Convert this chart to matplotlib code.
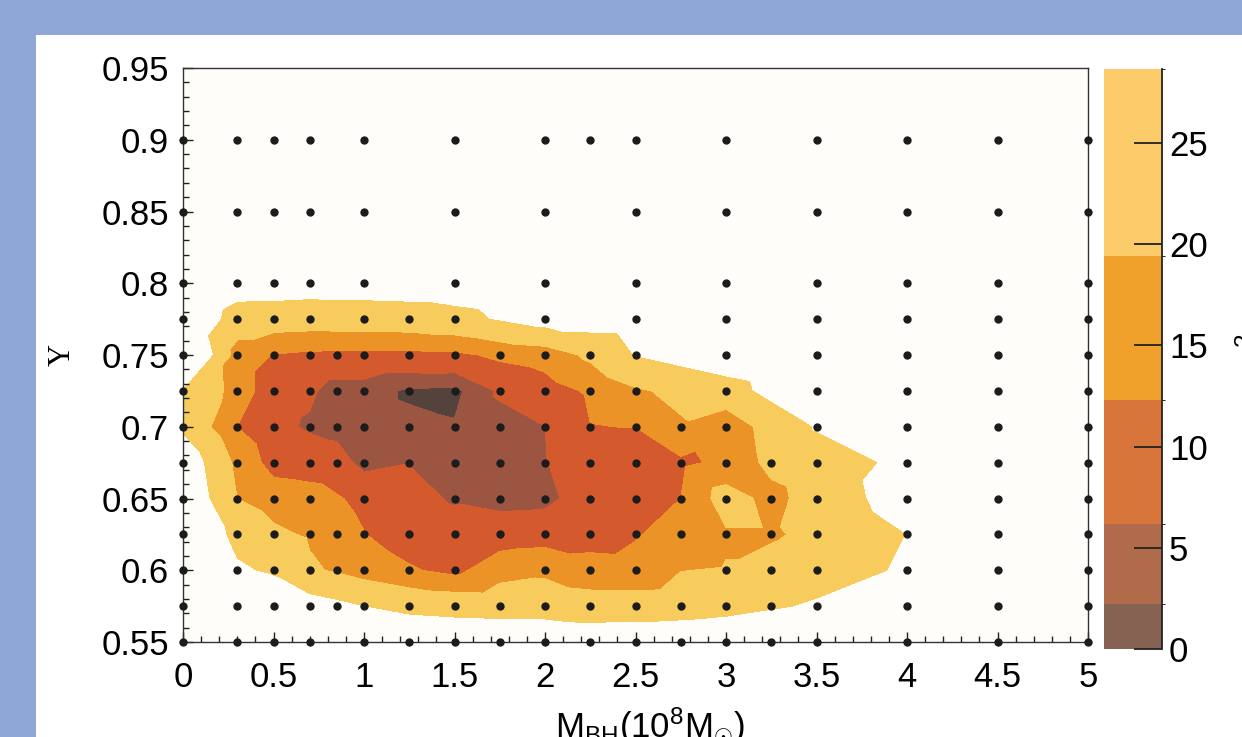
import numpy as np
import matplotlib
matplotlib.use("Agg")
import matplotlib.pyplot as plt
import matplotlib.tri as mtri
from matplotlib.colors import ListedColormap, BoundaryNorm
from matplotlib.cm import ScalarMappable

plt.rcParams['font.family'] = ['Liberation Sans', 'DejaVu Sans']
plt.rcParams['mathtext.fontset'] = 'custom'
plt.rcParams['mathtext.rm'] = 'Liberation Sans'
plt.rcParams['mathtext.it'] = 'Liberation Sans:italic'

# contour levels of chi^2 and the colours of the bands
levels = [0, 2.2, 6.15, 12.3, 19.4, 28.65]
fill_colors = ['#54433d', '#9c5540', '#d45a2e', '#eb9326', '#f7cb5c']
bar_colors = ['#856251', '#b06b4b', '#d8753b', '#efa12c', '#fccb6a']
bar_ticks = [0, 5, 10, 15, 20, 25]

# sampled grid: one row per Y value, M_BH positions and chi^2 at each point
rows_y = [0.90, 0.85, 0.80, 0.775, 0.75, 0.725, 0.70, 0.675, 0.65, 0.625, 0.60, 0.575, 0.55]
full_x = [0, 0.3, 0.5, 0.7, 0.85, 1, 1.25, 1.5, 1.75, 2, 2.25, 2.5, 2.75, 3, 3.25, 3.5, 4, 4.5, 5]
rows_x = [
    [0, 0.3, 0.5, 0.7, 1, 1.5, 2, 2.25, 2.5, 3, 3.5, 4, 4.5, 5],
    [0, 0.3, 0.5, 0.7, 1, 1.5, 2, 2.5, 3, 3.5, 4, 4.5, 5],
    [0, 0.3, 0.5, 0.7, 1, 1.5, 2, 2.5, 3, 3.5, 4, 4.5, 5],
    [0, 0.3, 0.5, 0.7, 1, 1.25, 1.5, 2, 2.5, 3, 3.5, 4, 4.5, 5],
    [0, 0.3, 0.5, 0.7, 0.85, 1, 1.25, 1.5, 1.75, 2, 2.25, 2.5, 3, 3.5, 4, 4.5, 5],
    [0, 0.3, 0.5, 0.7, 0.85, 1, 1.25, 1.5, 1.75, 2, 2.25, 2.5, 3, 3.5, 4, 4.5, 5],
    [0, 0.3, 0.5, 0.7, 0.85, 1, 1.25, 1.5, 1.75, 2, 2.25, 2.5, 2.75, 3, 3.5, 4, 4.5, 5],
    full_x,
    [0, 0.3, 0.5, 0.7, 1, 1.5, 1.75, 2, 2.25, 2.5, 2.75, 3, 3.25, 3.5, 4, 4.5, 5],
    full_x,
    [0, 0.3, 0.5, 0.7, 0.85, 1, 1.25, 1.5, 2, 2.25, 2.5, 3, 3.25, 3.5, 4, 4.5, 5],
    full_x,
    [0, 0.3, 0.5, 0.7, 1, 1.25, 1.5, 1.75, 2, 2.25, 2.5, 2.75, 3, 3.25, 3.5, 4, 4.5, 5],
]
rows_chi2 = [
    [70, 62, 60, 58, 56, 56, 58, 60, 62, 66, 70, 75, 80, 85],
    [55, 46, 44, 43, 42, 42, 44, 46, 50, 55, 62, 68, 75],
    [42, 34, 33.5, 33, 33, 33.5, 36, 40, 45, 50, 56, 62, 68],
    [40, 24, 24, 23.5, 24, 24.5, 26, 33, 34, 40, 46, 52, 58, 65],
    [45, 16, 12, 11, 10.8, 10.5, 10.5, 11, 13.5, 15, 21, 29.2, 36, 42, 48, 54, 60],
    [28.4, 16.3, 8.1, 7.0, 4.0, 4.0, 1.6, 1.2, 6.8, 9.4, 13.2, 18.4, 24, 40, 45, 52, 58],
    [27, 12.2, 7.5, 5.5, 4.5, 4.0, 3.2, 2.5, 4.5, 6.1, 12.2, 12.4, 18.5, 15, 29.5, 38, 46, 55],
    [36, 17.5, 9.7, 9, 8.5, 4.5, 6.0, 4.2, 4.0, 5.9, 9, 9.5, 11, 13.7, 21.5, 24, 31, 40, 50],
    [38, 19.3, 16, 15, 10.7, 5.7, 4.8, 5.0, 8.5, 10, 12.3, 23, 17, 23, 33.3, 42, 52],
    [40, 26, 21, 18.5, 15, 12.5, 9, 8, 8.5, 9, 9.5, 11.8, 15, 18.5, 18.5, 21.1, 28.8, 38, 48],
    [44, 30, 27.5, 20.5, 18.5, 16, 13, 10.5, 18, 15, 14.5, 19.8, 22, 24, 30, 38, 48],
    [50, 40, 36, 33, 31, 28.8, 26, 25, 24.5, 24, 23, 23, 23.5, 25, 27.5, 30, 36, 44, 52],
    [60, 52, 48, 44, 40, 38, 37, 37, 37, 35, 36, 37, 38, 40, 42, 48, 54, 60],
]

xs = np.concatenate([np.array(r, float) for r in rows_x])
ys = np.concatenate([np.full(len(r), y) for r, y in zip(rows_x, rows_y)])
zs = np.concatenate([np.array(r, float) for r in rows_chi2])

W, H = 1242, 737
fig = plt.figure(figsize=(W / 100, H / 100), dpi=100, facecolor='#8fa7d6')
fig.add_artist(plt.Rectangle((36 / W, 0), 1, 1 - 35 / H, transform=fig.transFigure,
                             facecolor='white', edgecolor='none', zorder=-1))

ax = fig.add_axes([183 / W, 1 - 642 / H, 905 / W, 574 / H])
ax.set_facecolor('#fefdf9')

# triangulate in (roughly) screen space so the skinny grid cells behave
vis = mtri.Triangulation(xs * 181.0, ys * 1435.0)
tri = mtri.Triangulation(xs, ys, vis.triangles)
ax.tricontourf(tri, zs, levels=levels, colors=fill_colors, antialiased=False)
ax.plot(xs, ys, 'o', color='#1c1c1c', ms=6, mec='none', clip_on=False, zorder=5)

ax.set_xlim(0, 5)
ax.set_ylim(0.55, 0.95)
xticks = [0, 0.5, 1, 1.5, 2, 2.5, 3, 3.5, 4, 4.5, 5]
yticks = [0.55, 0.6, 0.65, 0.7, 0.75, 0.8, 0.85, 0.9, 0.95]
ax.set_xticks(xticks)
ax.set_xticklabels(['%g' % t for t in xticks])
ax.set_yticks(yticks)
ax.set_yticklabels(['%g' % t for t in yticks])
ax.set_xticks(np.arange(0, 5.001, 0.1), minor=True)
ax.set_yticks(np.arange(0.55, 0.9501, 0.01), minor=True)
ax.tick_params(which='both', direction='in', top=False, right=False,
               color='#222222', width=1.0, labelsize=25)
ax.tick_params(which='major', length=7)
ax.tick_params(which='minor', length=4.5)
ax.tick_params(axis='x', pad=14)
ax.tick_params(axis='y', pad=10)
for s in ax.spines.values():
    s.set_color('#333333')
    s.set_linewidth(1.0)

ax.set_xlabel(r'M$_{\mathrm{BH}}$(10$^{8}$M$_{\odot}$)', fontsize=25)
ax.xaxis.set_label_coords(0.516, -0.11)
ax.set_ylabel('Y', fontsize=22, family='Liberation Serif')
ax.yaxis.set_label_coords(-0.118, 0.5)

cax = fig.add_axes([1104 / W, 1 - 649 / H, 58 / W, 580 / H])
sm = ScalarMappable(norm=BoundaryNorm(levels, len(bar_colors)), cmap=ListedColormap(bar_colors))
cb = fig.colorbar(sm, cax=cax, ticks=bar_ticks, spacing='proportional')
cb.outline.set_visible(False)
cax.tick_params(direction='in', length=20, width=1.3, color='#222222', labelsize=25, pad=5)
cax.plot([1, 1], [0, 1], transform=cax.transAxes, color='#222222', lw=1.3, clip_on=False)

fig.text(1254 / W, 1 - 352 / H, r'$\chi^2$', rotation=90, ha='center', va='center', fontsize=25)

fig.savefig('out.png', dpi=100, facecolor=fig.get_facecolor())
